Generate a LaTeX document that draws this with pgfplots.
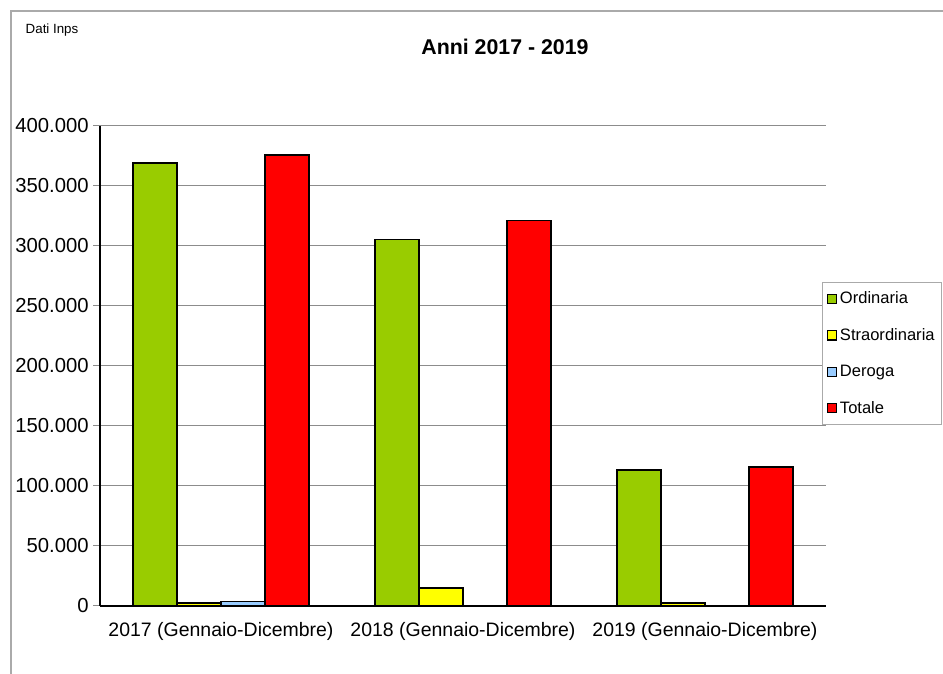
\documentclass[border=0pt]{standalone}
\usepackage{fontspec}
\setmainfont{Liberation Sans}
\usepackage{pgfplots}
\pgfplotsset{compat=1.18}
\definecolor{cOrd}{RGB}{153,204,0}
\definecolor{cStr}{RGB}{255,255,0}
\definecolor{cDer}{RGB}{153,204,255}
\definecolor{cTot}{RGB}{255,0,0}
\definecolor{framec}{RGB}{170,170,170}
\definecolor{gridc}{RGB}{140,140,140}
\begin{document}
\begin{tikzpicture}[x=1pt,y=1pt]
\path[use as bounding box] (0,0) rectangle (707.25,505.5);
\draw[framec, line width=1pt] (8.25,0) -- (8.25,497.25) -- (707.25,497.25);
\node[anchor=west, font=\fontsize{10}{12}\selectfont] at (15.75,483) {Dati Inps};
\node[font=\fontsize{16}{19}\selectfont\bfseries] at (378.75,470.25) {Anni 2017 - 2019};
\begin{axis}[
  at={(75pt,51pt)}, anchor=south west,
  width=544.5pt, height=360pt, scale only axis,
  ymin=0, ymax=400000, xmin=-0.5, xmax=2.5,
  ytick={0,50000,...,400000},
  scaled y ticks=false,
  /pgf/number format/fixed,
  /pgf/number format/1000 sep={.},
  /pgf/number format/assume math mode=true,
  ymajorgrids, grid style={gridc, line width=0.75pt},
  axis x line=bottom, axis y line=left,
  axis line style={-, black, line width=0.9pt},
  tick align=outside, major tick length=5pt,
  ytick style={gridc, line width=0.75pt},
  xtick={0,1,2},
  xticklabels={2017 (Gennaio-Dicembre),2018 (Gennaio-Dicembre),2019 (Gennaio-Dicembre)},
  xtick style={draw=none},
  extra x ticks={-0.5,0.5,1.5,2.5},
  extra x tick labels={},
  extra x tick style={grid=none, tick style={draw=gridc, line width=0.75pt}},
  xticklabel style={font=\fontsize{14.6}{17}\selectfont, yshift=-4pt},
  yticklabel style={font=\fontsize{15.2}{17}\selectfont},
  ybar=0pt, bar width=33pt,
  legend style={at={(0.9945,0.675)}, anchor=north west, draw=framec, line width=0.75pt,
    font=\fontsize{12.4}{14}\selectfont, row sep=13pt, inner ysep=5pt, inner xsep=3.5pt,
    nodes={inner xsep=2pt}, cells={anchor=west}},
  mylegend/.style={legend image code/.code={\draw[##1, line width=0.8pt] (0pt,-3.4pt) rectangle (6.8pt,3.4pt);}},
]
\addplot[fill=cOrd, draw=black, line width=1.2pt, mylegend] coordinates {(0,369400) (1,305300) (2,113300)};
\addplot[fill=cStr, draw=black, line width=1.2pt, mylegend] coordinates {(0,2700) (1,15000) (2,2300)};
\addplot[fill=cDer, draw=black, line width=1.2pt, mylegend] coordinates {(0,3900)};
\addplot[fill=cTot, draw=black, line width=1.2pt, mylegend] coordinates {(0,375800) (1,321100) (2,115800)};
\legend{Ordinaria,Straordinaria,Deroga,Totale}
\end{axis}
\end{tikzpicture}
\end{document}
